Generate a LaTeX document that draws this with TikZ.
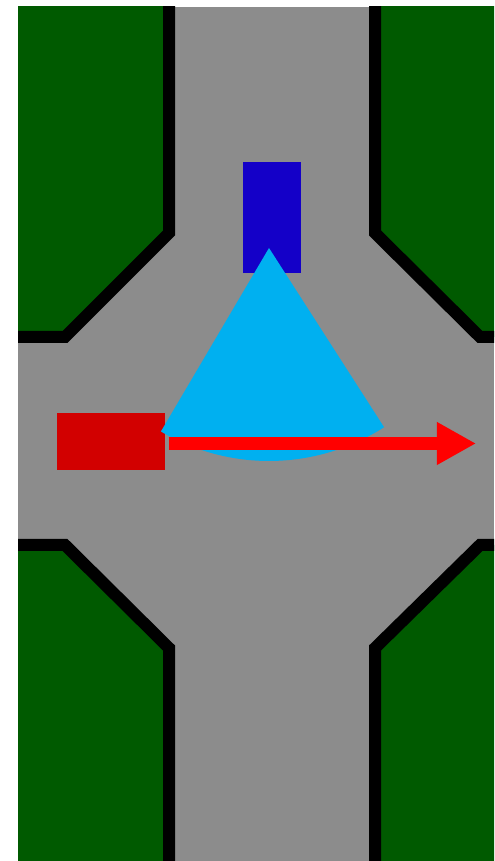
\documentclass[tikz,border=0pt]{standalone}
\definecolor{grass}{RGB}{0,90,0}
\definecolor{road}{RGB}{140,140,140}
\definecolor{egored}{RGB}{210,0,0}
\definecolor{otherblue}{RGB}{20,0,200}
\definecolor{fovcyan}{RGB}{0,176,240}
\usetikzlibrary{arrows.meta}
\tikzset{
  lawn/.style={fill=grass,draw=black,line width=0.12cm,line join=miter},
  vehicle/.style={inner sep=0pt,draw=none},
  egocar/.style={vehicle,fill=egored,minimum width=1.08cm,minimum height=0.57cm},
  othercar/.style={vehicle,fill=otherblue,minimum width=0.58cm,minimum height=1.11cm},
  fov/.style={fill=fovcyan},
  arr/.style={-{Triangle[length=0.39cm,width=0.40cm]},line width=0.13cm,draw=red,shorten <=0.03cm},
}
\begin{document}
\begin{tikzpicture}[x=0.01cm,y=0.01cm]
    \useasboundingbox (0,0) rectangle (494,861);
    \fill[white] (0,0) rectangle (494,861);
    \begin{scope}
      \clip (18,0) rectangle (494,854);
      \fill[road] (18,0) rectangle (494,854);
      % four corner lawns
      \draw[lawn] (-10,524) -- (65,524) -- (169,628) -- (169,880) -- (-10,880) -- cycle;
      \draw[lawn] (510,524) -- (480,524) -- (375,628) -- (375,880) -- (510,880) -- cycle;
      \draw[lawn] (-10,316) -- (65,316) -- (169,213) -- (169,-20) -- (-10,-20) -- cycle;
      \draw[lawn] (510,316) -- (480,316) -- (375,213) -- (375,-20) -- (510,-20) -- cycle;
    \end{scope}
    \node[othercar] (blue) at (272,643.5) {};
    \node[egocar] (ego) at (111,419.5) {};
    % sensor cone
    \coordinate (apex) at (269,613);
    \fill[fov] (apex) -- ++(239.5:213) arc[start angle=239.5,end angle=302.7,radius=213] -- cycle;
    \coordinate (goal) at (476,417.5);
    \draw[arr] (ego.east |- goal) -- (goal);
  \end{tikzpicture}
\end{document}
